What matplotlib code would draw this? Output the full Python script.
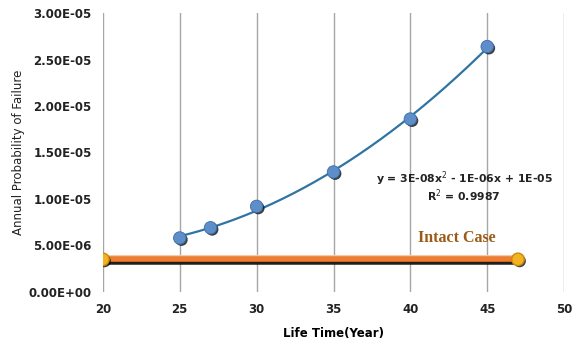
import matplotlib
matplotlib.use('Agg')

import numpy as np
import matplotlib.pyplot as plt
import matplotlib.patheffects as pe
from matplotlib.ticker import FuncFormatter

# data
life_years = [25, 27, 30, 35, 40, 45]
prob_fail = [5.8e-06, 6.9e-06, 9.2e-06, 1.29e-05, 1.86e-05, 2.64e-05]

intact_x = [20, 47]
intact_y = [3.5e-06, 3.5e-06]

y_ticks = [0, 5e-06, 1e-05, 1.5e-05, 2e-05, 2.5e-05, 3e-05]
x_ticks = [20, 25, 30, 35, 40, 45, 50]

fig = plt.figure(figsize=(5.75, 3.45), dpi=100)
ax = fig.add_axes([0.179, 0.154, 0.802, 0.808])

# quadratic trendline like the spreadsheet one
coef = np.polyfit(life_years, prob_fail, 2)
xs = np.linspace(min(life_years), max(life_years), 200)
ax.plot(xs, np.polyval(coef, xs), color='#2f74a3', lw=1.6, zorder=3)

shadow = [pe.SimplePatchShadow(offset=(1.2, -1.2), shadow_rgbFace='black', alpha=0.75), pe.Normal()]

ax.plot(life_years, prob_fail, 'o', ms=9, mfc='#5d8ec9', mec='#3b6da8', mew=0.6,
        zorder=4, path_effects=shadow)

ax.plot(intact_x, intact_y, '-', color='#ed7d31', lw=4, zorder=3,
        solid_capstyle='butt',
        path_effects=[pe.Stroke(linewidth=6.5, foreground='#f6c9a8'),
                      pe.SimpleLineShadow(offset=(0, -2), shadow_color='black', alpha=0.85, linewidth=4),
                      pe.Normal()])
ax.plot(intact_x, intact_y, 'o', ms=9, mfc='#f3b21f', mec='#c98a10', mew=1,
        zorder=4, path_effects=shadow)

ax.text(43.0, 5.8e-06, 'Intact Case', family='Liberation Serif', fontweight='bold',
        fontsize=11.5, color='#9a5b17', ha='center', va='center')
ax.text(43.5, 1.22e-05, 'y = 3E-08x$^2$ - 1E-06x + 1E-05', fontsize=7.8, fontweight='semibold',
        ha='center', va='center', color='#222222')
ax.text(43.5, 1.03e-05, 'R$^2$ = 0.9987', fontsize=7.8, fontweight='semibold',
        ha='center', va='center', color='#222222')

ax.set_xlim(20, 50)
ax.set_ylim(0, 3e-05)
ax.set_xticks(x_ticks)
ax.set_yticks(y_ticks)
ax.yaxis.set_major_formatter(FuncFormatter(lambda v, p: '{:.2E}'.format(v)))
ax.grid(axis='x', color='#a6a6a6', lw=1)
ax.set_axisbelow(True)
for s in ax.spines.values():
    s.set_visible(False)
ax.tick_params(length=0, labelsize=8.5, pad=8)
for lab in ax.get_xticklabels() + ax.get_yticklabels():
    lab.set_fontweight('bold')
    lab.set_color('#222222')

ax.set_xlabel('Life Time(Year)', fontsize=8.5, fontweight='semibold', labelpad=8)
ax.set_ylabel('Annual Probability of Failure', fontsize=8.5, labelpad=3, color='#222222')

plt.savefig('out.png')
